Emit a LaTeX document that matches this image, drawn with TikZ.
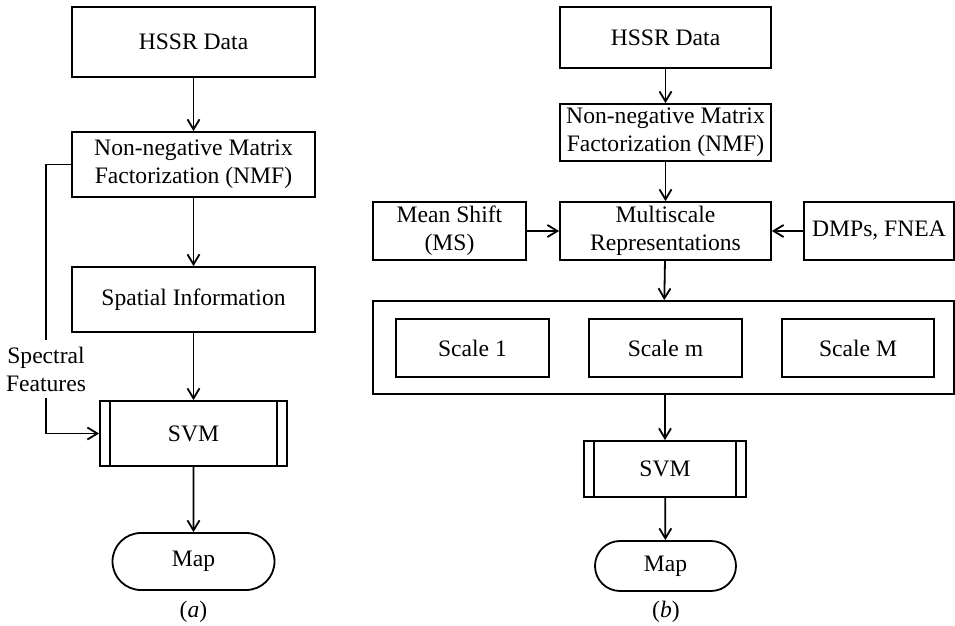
\documentclass[tikz,border=0pt]{standalone}
\usepackage{fontspec}
\setmainfont{Liberation Serif}
\usepackage{tikz}
\usetikzlibrary{arrows.meta}
\usetikzlibrary{shapes.misc}

\begin{document}
\begin{tikzpicture}[x=1pt,y=1pt,line width=0.9pt,every node/.style={font=\fontsize{11.8}{14}\selectfont, align=center, inner sep=0pt},
	box/.style={draw, rectangle},
	proc/.style={draw, rectangle, path picture={
		\draw ([xshift=5pt]path picture bounding box.north west) -- ([xshift=5pt]path picture bounding box.south west);
		\draw ([xshift=-5pt]path picture bounding box.north east) -- ([xshift=-5pt]path picture bounding box.south east);}},
	term/.style={draw, rounded rectangle},
	arr/.style={-{Straight Barb[length=5pt,width=6pt]}}]
	
	\useasboundingbox (0,0) rectangle (477.5,-313);
	
	% (a)
	\node[box, minimum width=121.5pt, minimum height=35pt] (hssrA) at (96.75,-21) {HSSR Data};
	\node[box, minimum width=121.5pt, minimum height=32.5pt] (nmfA) at (96.75,-82.25) {Non-negative Matrix\\Factorization (NMF)};
	\node[box, minimum width=121.5pt, minimum height=32.5pt] (spatA) at (96.75,-149.75) {Spatial Information};
	\node[proc, minimum width=93.5pt, minimum height=32.5pt] (svmA) at (96.75,-216.75) {SVM};
	\node[term, minimum width=81pt, minimum height=28.5pt] (mapA) at (96.75,-280.75) {Map};
	\node (capA) at (96.75,-306) {(\textit{a})};
	\node[inner sep=3pt] (specA) at (23,-184.5) {Spectral\\Features};
	
	\draw[arr] (hssrA) -- (nmfA);
	\draw[arr] (nmfA) -- (spatA);
	\draw[arr] (spatA) -- (svmA);
	\draw[arr] (svmA) -- (mapA);
	\draw (nmfA.west) -| (specA.north);
	\draw[arr] (specA.south) |- (svmA.west);
	
	% (b)
	\node[box, minimum width=105.5pt, minimum height=30.5pt] (hssrB) at (332.75,-18.75) {HSSR Data};
	\node[box, minimum width=105.5pt, minimum height=28.5pt] (nmfB) at (332.75,-66.25) {Non-negative Matrix\\Factorization (NMF)};
	\node[box, minimum width=105.5pt, minimum height=29pt] (multiB) at (332.75,-115.5) {Multiscale\\Representations};
	\node[box, minimum width=76.5pt, minimum height=29pt] (msB) at (224.75,-115.5) {Mean Shift\\(MS)};
	\node[box, minimum width=75pt, minimum height=29pt] (dmpB) at (439.5,-115.5) {DMPs, FNEA};
	\node[box, minimum width=290.5pt, minimum height=46.5pt] (scales) at (331.75,-173.75) {};
	\node[box, minimum width=76.5pt, minimum height=29pt] (sc1) at (236.25,-174) {Scale 1};
	\node[box, minimum width=76.5pt, minimum height=29pt] (scm) at (332.75,-174) {Scale m};
	\node[box, minimum width=76pt, minimum height=29pt] (scM) at (429,-174) {Scale M};
	\node[proc, minimum width=81pt, minimum height=28pt] (svmB) at (332.5,-234.5) {SVM};
	\node[term, minimum width=70.5pt, minimum height=25pt] (mapB) at (332.75,-283) {Map};
	\node (capB) at (333,-306) {(\textit{b})};
	
	\draw[arr] (hssrB) -- (nmfB);
	\draw[arr] (nmfB) -- (multiB);
	\draw[arr] (msB) -- (multiB);
	\draw[arr] (dmpB) -- (multiB);
	\draw[arr] (multiB) -- (scales);
	\draw[arr] (scales.south -| svmB) -- (svmB);
	\draw[arr] (svmB) -- (mapB);
\end{tikzpicture}
\end{document}
